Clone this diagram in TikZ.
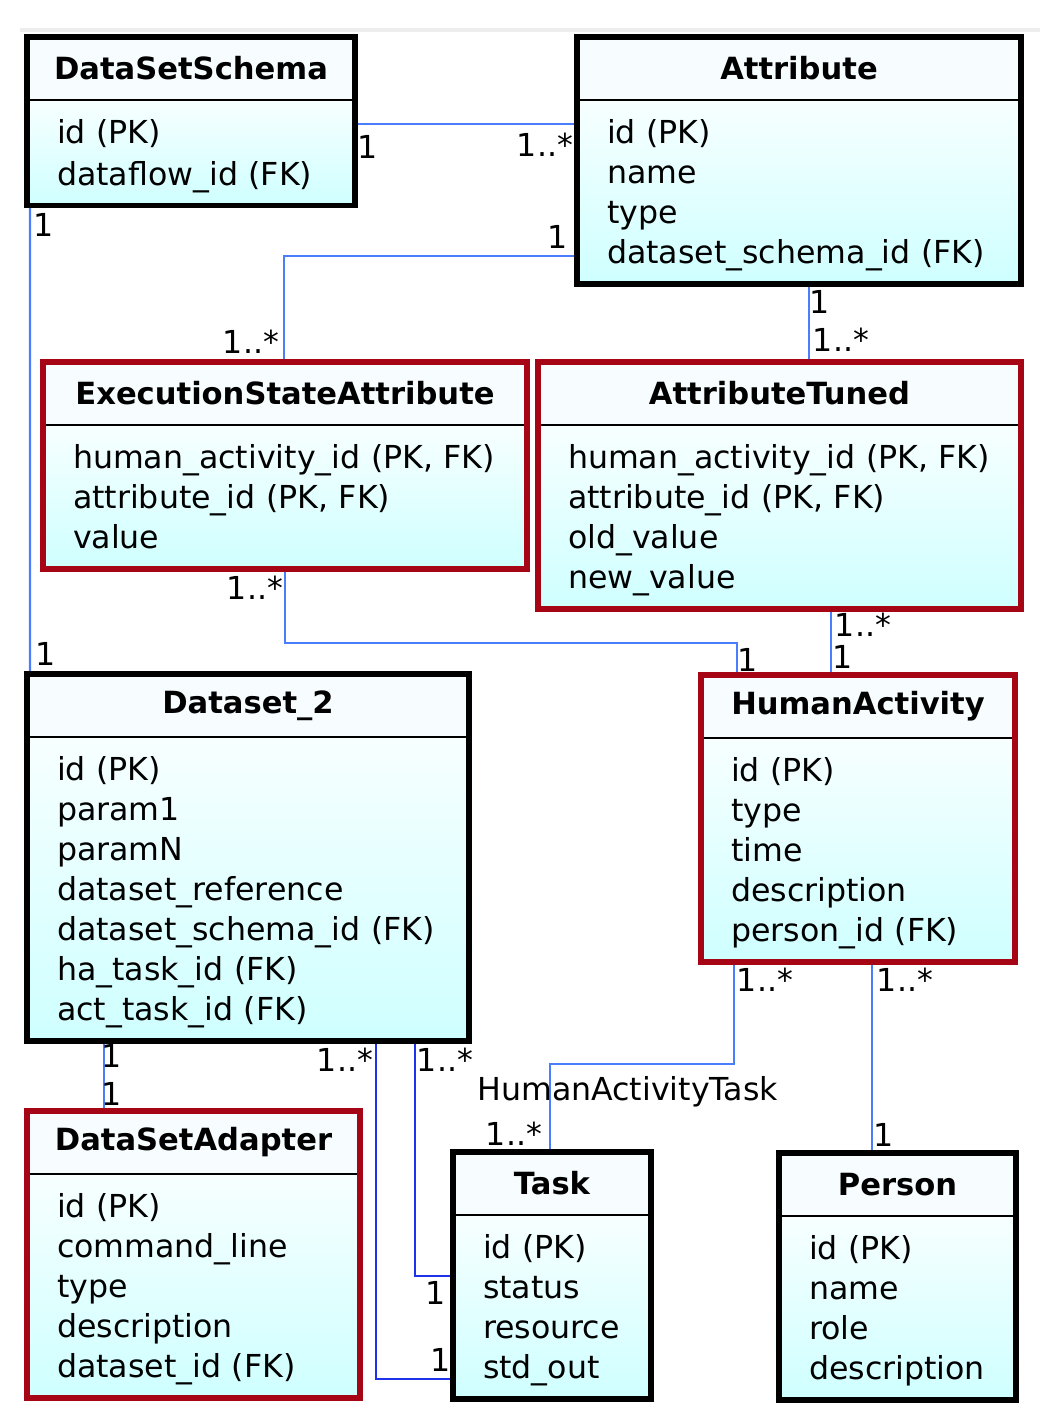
\documentclass[tikz,border=0pt]{standalone}
\usepackage{fontspec}
\setmainfont{DejaVu Sans}
\usepackage{tikz}
\usetikzlibrary{backgrounds,calc,positioning}

\definecolor{schluesselrot}{RGB}{165,5,20}
\definecolor{linienblau}{RGB}{75,125,255}
\definecolor{dunkelblau}{RGB}{30,50,235}
\newcommand{\zstrut}{\rule[-0.17cm]{0pt}{0.8cm}}

\tikzset{
  kopf/.style={draw=black, line width=1.5pt, outer sep=0pt, inner sep=0pt, minimum height=1.26cm, fill=cyan!3, font=\fontsize{17.4}{20}\selectfont\bfseries},
  rumpf/.style={draw=black, line width=1.5pt, outer sep=0pt, inner xsep=0.6cm, inner ysep=0.24cm, align=left, top color=cyan!3, bottom color=cyan!19, font=\fontsize{18}{22.76}\selectfont},
  rahmen/.style={line width=3pt},
  assoc/.style={draw=linienblau, line width=1.4pt},
  mult/.style={font=\fontsize{18}{20}\selectfont, inner sep=0pt, text height=0.46cm, text depth=0pt}
}

\begin{document}
\begin{tikzpicture}
\useasboundingbox (0,0) rectangle (21.08,-28.4);
\draw[black!7, line width=2.5pt] (0.4,-0.6) -- (20.8,-0.6);
%Tabellen oben: Kopf mit Namen, darunter die Spalten, dann der dicke Rahmen
\node[kopf, minimum width=6.56cm, anchor=north west] (dss-h) at (0.54,-0.74) {DataSetSchema};
\node[rumpf, text width=5.36cm, below=0pt of dss-h] (dss) {\zstrut id~(PK)\\dataflow\_id~(FK)\zstrut};
\draw[rahmen] (dss-h.north west) rectangle (dss.south east);
\node[kopf, minimum width=8.88cm, anchor=north west] (attr-h) at (11.54,-0.74) {Attribute};
\node[rumpf, text width=7.68cm, below=0pt of attr-h] (attr) {\zstrut id~(PK)\\name\\type\\dataset\_schema\_id~(FK)\zstrut};
\draw[rahmen] (attr-h.north west) rectangle (attr.south east);
%rot umrandet: Tabellen mit zusammengesetztem Schluessel
\node[kopf, minimum width=9.68cm, anchor=north west] (esa-h) at (0.86,-7.24) {ExecutionStateAttribute};
\node[rumpf, text width=8.48cm, below=0pt of esa-h] (esa) {\zstrut human\_activity\_id~(PK,~FK)\\attribute\_id~(PK,~FK)\\value\zstrut};
\draw[rahmen, schluesselrot] (esa-h.north west) rectangle (esa.south east);
\node[kopf, minimum width=9.66cm, anchor=north west] (atun-h) at (10.76,-7.24) {AttributeTuned};
\node[rumpf, text width=8.46cm, below=0pt of atun-h] (atun) {\zstrut human\_activity\_id~(PK,~FK)\\attribute\_id~(PK,~FK)\\old\_value\\new\_value\zstrut};
\draw[rahmen, schluesselrot] (atun-h.north west) rectangle (atun.south east);
%Mitte
\node[kopf, minimum width=8.84cm, anchor=north west] (ds2-h) at (0.54,-13.48) {Dataset\_2};
\node[rumpf, text width=7.64cm, below=0pt of ds2-h] (ds2) {\zstrut id~(PK)\\param1\\paramN\\dataset\_reference\\dataset\_schema\_id~(FK)\\ha\_task\_id~(FK)\\act\_task\_id~(FK)\zstrut};
\draw[rahmen] (ds2-h.north west) rectangle (ds2.south east);
\node[kopf, minimum width=6.28cm, anchor=north west] (hact-h) at (14.02,-13.50) {HumanActivity};
\node[rumpf, text width=5.08cm, below=0pt of hact-h] (hact) {\zstrut id~(PK)\\type\\time\\description\\person\_id~(FK)\zstrut};
\draw[rahmen, schluesselrot] (hact-h.north west) rectangle (hact.south east);
%unten
\node[kopf, minimum width=6.66cm, anchor=north west] (dsa-h) at (0.54,-22.22) {DataSetAdapter};
\node[rumpf, text width=5.46cm, below=0pt of dsa-h] (dsa) {\zstrut id~(PK)\\command\_line\\type\\description\\dataset\_id~(FK)\zstrut};
\draw[rahmen, schluesselrot] (dsa-h.north west) rectangle (dsa.south east);
\node[kopf, minimum width=3.96cm, anchor=north west] (task-h) at (9.06,-23.04) {Task};
\node[rumpf, text width=2.76cm, below=0pt of task-h] (task) {\zstrut id~(PK)\\status\\resource\\std\_out\zstrut};
\draw[rahmen] (task-h.north west) rectangle (task.south east);
\node[kopf, minimum width=4.74cm, anchor=north west] (pers-h) at (15.58,-23.06) {Person};
\node[rumpf, text width=3.54cm, below=0pt of pers-h] (pers) {\zstrut id~(PK)\\name\\role\\description\zstrut};
\draw[rahmen] (pers-h.north west) rectangle (pers.south east);
%Verbindungen hinter die Tabellen
\begin{scope}[on background layer]
\draw[assoc] ($(dss.north east)+(0,-0.48)$) -- ($(attr.north west)+(0,-0.48)$);
\draw[assoc] ($(attr.south west)+(0,0.56)$) -| ($(esa-h.north west)+(4.82,0)$);
\draw[assoc] ($(dss.south west)+(0.06,0)$) -- ($(ds2-h.north west)+(0.06,0)$);
\draw[assoc] ($(attr.south west)+(4.64,0)$) coordinate (c4) -- (c4 |- atun-h.north);
\draw[assoc] ($(esa.south west)+(4.84,0)$) -- ++(0,-1.48) -| ($(hact-h.north west)+(0.72,0)$);
\draw[assoc] ($(atun.south west)+(5.86,0)$) coordinate (c6) -- (c6 |- hact-h.north);
\draw[assoc] ($(ds2.south west)+(1.54,0)$) coordinate (c7) -- (c7 |- dsa-h.north);
\draw[assoc, draw=dunkelblau] ($(ds2.south west)+(6.98,0)$) |- ($(task.south west)+(0,0.4)$);
\draw[assoc, draw=dunkelblau] ($(ds2.south west)+(7.76,0)$) |- ($(task.north west)+(0,-1.22)$);
\draw[assoc] ($(hact.south west)+(0.66,0)$) -- ++(0,-2.04) -| ($(task-h.north west)+(1.94,0)$);
\draw[assoc] ($(hact.south west)+(3.42,0)$) coordinate (c11) -- (c11 |- pers-h.north);
\end{scope}
%Multiplizitaeten
\foreach \pos/\txt [count=\i] in {{7.36,-2.94}/1, {10.90,-2.90}/1..*, {11.16,-4.74}/1, {5.02,-6.84}/1..*,
  {0.88,-4.50}/1, {0.92,-13.08}/1, {16.40,-6.04}/1, {16.82,-6.80}/1..*, {5.10,-11.76}/1..*,
  {14.96,-13.20}/1, {17.26,-12.50}/1..*, {16.86,-13.14}/1, {2.24,-21.12}/1, {2.24,-21.88}/1,
  {6.90,-21.20}/1..*, {8.82,-27.20}/1, {8.90,-21.20}/1..*, {8.72,-25.86}/1, {15.30,-19.60}/1..*,
  {10.28,-22.68}/1..*, {18.10,-19.60}/1..*, {17.68,-22.70}/1}{
\node[mult] (m\i) at (\pos) {\txt};
}
\node[mult, anchor=west] (rolle) at (9.54,-21.78) {HumanActivityTask};
\end{tikzpicture}
\end{document}
